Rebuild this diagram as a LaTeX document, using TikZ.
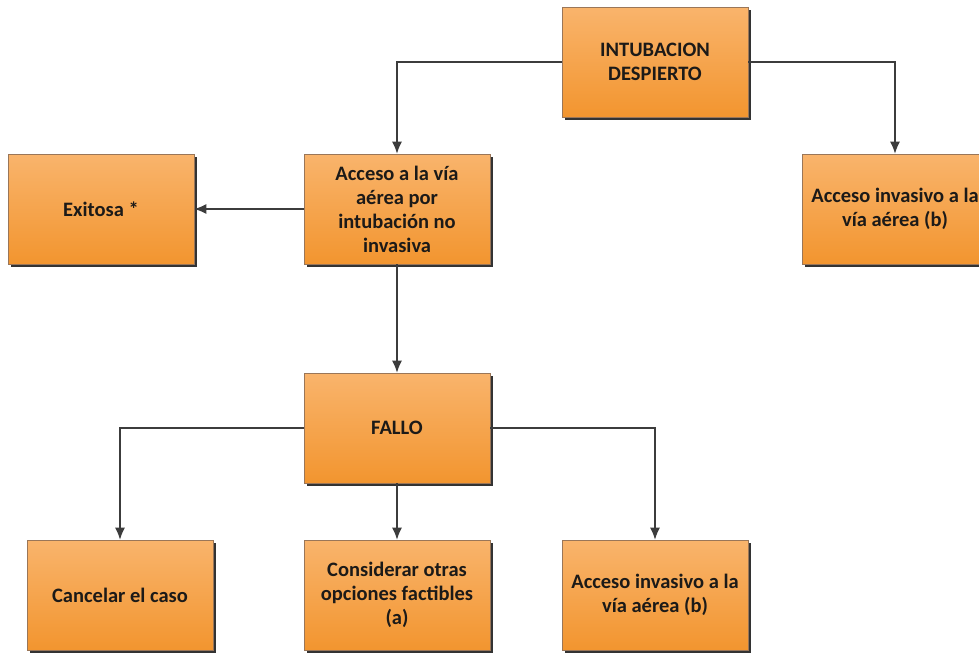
\documentclass[tikz,border=0pt]{standalone}
\usepackage{fontspec}
\setmainfont{Carlito}
\usetikzlibrary{arrows.meta,shadows}
\definecolor{boxtop}{HTML}{F9B46C}
\definecolor{boxbot}{HTML}{F2952F}
\definecolor{boxline}{HTML}{9A7658}
\definecolor{conn}{HTML}{3C3C3C}
\definecolor{txt}{HTML}{1C1A18}
\tikzset{
  fbox/.style={rectangle, draw=boxline, line width=0.6pt,
    top color=boxtop, bottom color=boxbot,
    minimum width=186pt, minimum height=110pt, inner sep=2pt,
    text width=182pt, align=flush center, text=txt,
    font=\fontsize{20.5}{24}\selectfont\bfseries,
    general shadow={shadow xshift=3pt, shadow yshift=-3pt, fill=black!80}},
  conn/.style={draw=conn, line width=1.4pt, -{Latex[length=12pt,width=10pt]}}
}
\begin{document}
\begin{tikzpicture}[x=1pt,y=-1pt]
\clip (0,0) rectangle (979,654);
\fill[white] (0,0) rectangle (979,654);
\node[fbox] (b1) at (655,62) {INTUBACION\\DESPIERTO};
\node[fbox] (b2) at (397,209) {Acceso a la vía\\aérea por\\intubación no\\invasiva};
\node[fbox] (b3) at (895,209) {Acceso invasivo a la\\vía aérea (b)};
\node[fbox] (b4) at (101,209) {Exitosa *};
\node[fbox] (f) at (397,428) {FALLO};
\node[fbox] (c1) at (120,595) {Cancelar el caso};
\node[fbox] (c2) at (397,595) {Considerar otras\\opciones factibles\\(a)};
\node[fbox] (c3) at (655,595) {Acceso invasivo a la\\vía aérea (b)};
\draw[conn] (b1.west) -| (b2.north);
\draw[conn] (b1.east) -| (b3.north);
\draw[conn] (b2.west) -- (b4.east);
\draw[conn] (b2.south) -- (f.north);
\draw[conn] (f.west) -| (c1.north);
\draw[conn] (f.south) -- (c2.north);
\draw[conn] (f.east) -| (c3.north);
\end{tikzpicture}
\end{document}
